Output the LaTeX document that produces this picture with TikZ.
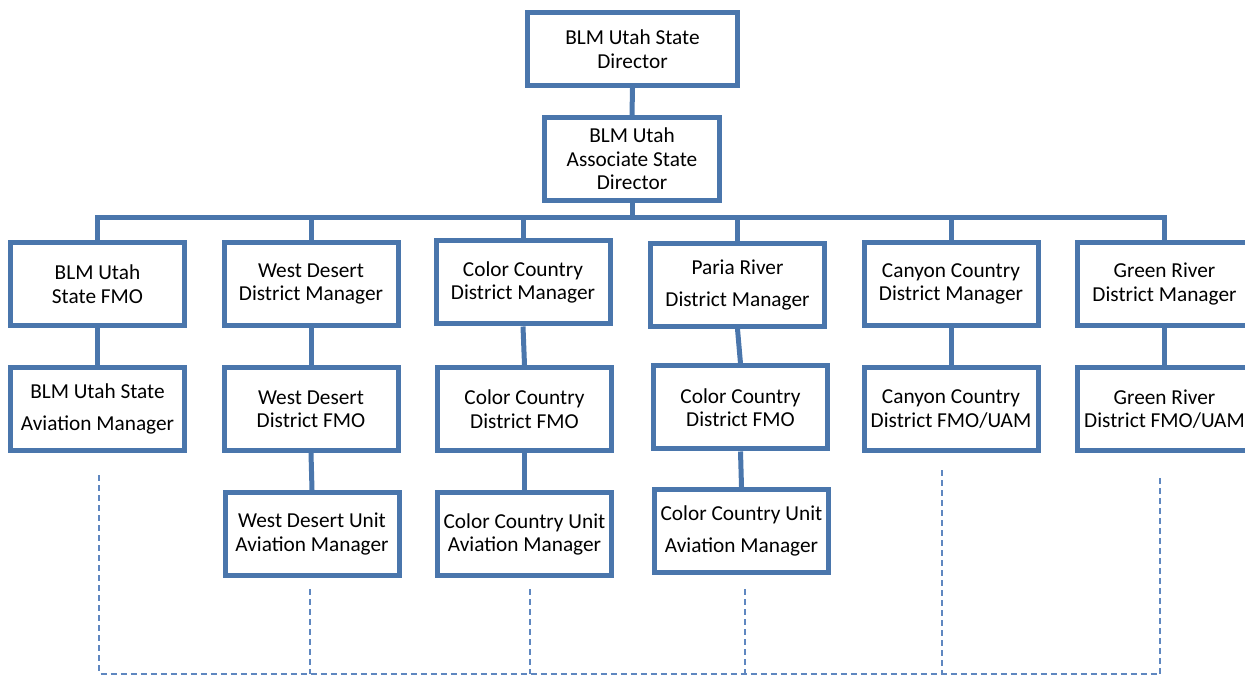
\documentclass[tikz,border=0pt]{standalone}
\usepackage{fontspec}
\setmainfont{Carlito}
\definecolor{orgblue}{RGB}{74,118,172}
\definecolor{avblue}{RGB}{95,135,192}
\tikzset{
  orgbox/.style={draw=orgblue, line width=5bp, fill=white, rectangle,
    minimum width=174bp, minimum height=83bp, align=center, inner sep=2bp,
    font=\fontsize{21.3bp}{23.5bp}\selectfont},
  orgline/.style={draw=orgblue, line width=5bp},
  avline/.style={draw=avblue, line width=1.5bp, dash pattern=on 6bp off 4bp},
}
\begin{document}
\begin{tikzpicture}[line join=miter]
\useasboundingbox (0bp,0bp) rectangle (1245bp,677bp);
%%
  % Node: State Director
  \node [orgbox, minimum width=210bp, minimum height=73bp] (sd) at (632.5bp,628bp) {BLM Utah State\\Director};
  % Node: Associate State Director
  \node [orgbox, minimum width=175bp] (asd) at (632bp,518bp) {BLM Utah\\Associate State\\Director};
  % Nodes: district managers
  \node [orgbox] (fmo) at (97.5bp,393bp) {BLM Utah\\State FMO};
  \node [orgbox] (wd) at (311bp,393bp) {West Desert\\District Manager};
  \node [orgbox] (cc) at (523bp,394.5bp) {Color Country\\District Manager};
  \node [orgbox] (pr) at (737.5bp,392bp) {Paria River\\[9bp]District Manager};
  \node [orgbox] (can) at (951bp,393bp) {Canyon Country\\District Manager};
  \node [orgbox] (gr) at (1164.5bp,393bp) {Green River\\District Manager};
  % Nodes: district FMOs
  \node [orgbox] (fav) at (97.5bp,268bp) {BLM Utah State\\[9bp]Aviation Manager};
  \node [orgbox] (wdf) at (311bp,268bp) {West Desert\\District FMO};
  \node [orgbox] (ccf) at (524.5bp,268bp) {Color Country\\District FMO};
  \node [orgbox] (prf) at (740.5bp,269.5bp) {Color Country\\District FMO};
  \node [orgbox] (canf) at (951bp,268bp) {Canyon Country\\District FMO/UAM};
  \node [orgbox] (grf) at (1164.5bp,268bp) {Green River\\District FMO/UAM};
  % Nodes: unit aviation managers
  \node [orgbox] (wdu) at (312bp,143bp) {West Desert Unit\\Aviation Manager};
  \node [orgbox] (ccu) at (524.5bp,142.5bp) {Color Country Unit\\Aviation Manager};
  \node [orgbox] (pru) at (741.5bp,146bp) {Color Country Unit\\[9bp]Aviation Manager};
%%
  % Edge: State Director -> Associate
  \draw [orgline] (sd.south) -- (asd.north);
  % Edge: Associate -> bus -> managers
  \coordinate (bus) at (630bp,459bp);
  \draw [orgline] (asd.south) -- (asd.south |- bus);
  \foreach \n in {fmo,wd,cc,pr,can,gr}
    \draw [orgline] (bus) -| (\n.north);
  % Edge: managers -> FMOs -> units
  \foreach \a/\b in {fmo/fav,wd/wdf,cc/ccf,pr/prf,can/canf,gr/grf,wdf/wdu,ccf/ccu,prf/pru}
    \draw [orgline] (\a.south) -- (\b.north);
  % Edge: aviation (dashed)
  \coordinate (base) at (0bp,3bp);
  \foreach \n/\dx/\dy in {fav/1.5/-22.5,wdu/-2/-11.5,ccu/5.5/-11,pru/3.5/-14.5,canf/-9/-17.5,grf/-4.5/-21.5}
    \path ([shift={(\dx bp,\dy bp)}]\n.south) coordinate (top-\n);
  \draw [avline] (top-fav) |- (top-grf |- base) -- (top-grf);
  \foreach \n in {wdu,ccu,pru,canf}
    \draw [avline] (top-\n) -- (top-\n |- base);
%
\end{tikzpicture}
\end{document}
